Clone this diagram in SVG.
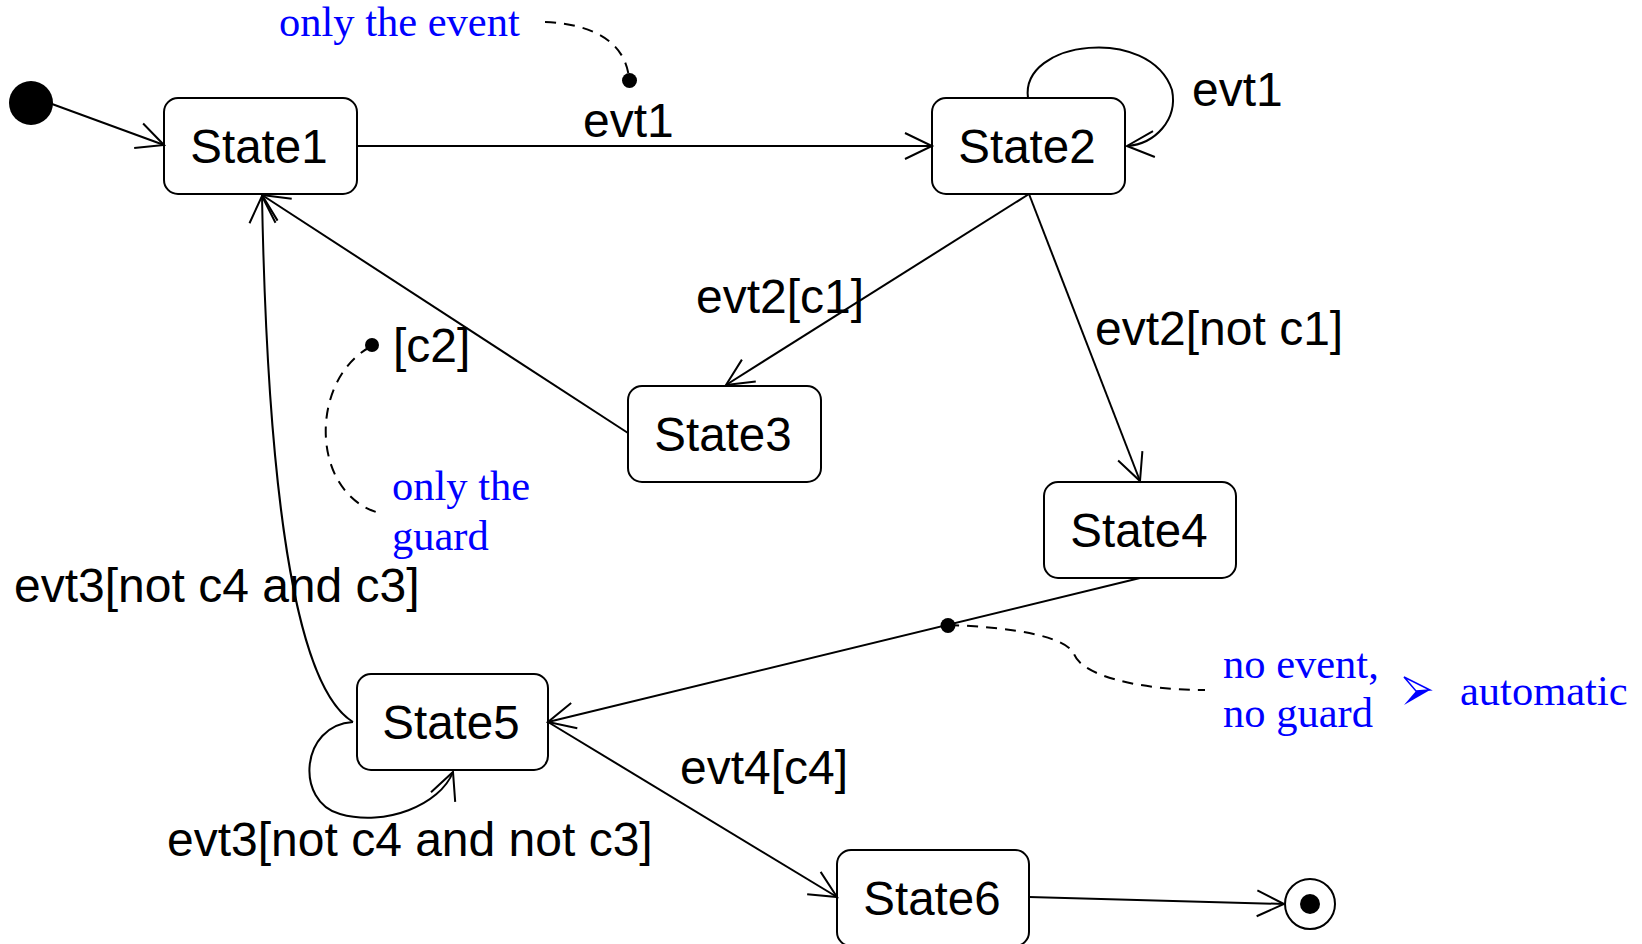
<svg xmlns="http://www.w3.org/2000/svg" width="1642" height="944" viewBox="0 0 1642 944">
  <style>
    .state rect { fill: #ffffff; stroke: #000000; stroke-width: 2; }
    .state text { font-family: "Liberation Sans", Arial, sans-serif; font-size: 47.5px; fill: #000000; text-anchor: middle; }
    .edge { fill: none; stroke: #000000; stroke-width: 2; marker-end: url(#open-arrow); }
    .lbl { font-family: "Liberation Sans", Arial, sans-serif; font-size: 48px; fill: #000000; }
    .note { font-family: "Liberation Serif", "Times New Roman", serif; font-size: 42.5px; fill: #0000ff; }
    .lead { fill: none; stroke: #000000; stroke-width: 2; stroke-dasharray: 11 8; }
  </style>
  <defs>
    <marker id="open-arrow" markerUnits="userSpaceOnUse" viewBox="-30 -16 32 32" markerWidth="32" markerHeight="32" refX="0" refY="0" orient="auto" overflow="visible">
      <path d="M -27 -13 L 0 0 L -27 13" fill="none" stroke="#000000" stroke-width="2"/>
    </marker>
  </defs>

  <rect width="1642" height="944" fill="#ffffff"/>

  <!-- pseudo states -->
  <g id="initial">
    <circle cx="31" cy="103" r="22" fill="#000000"/>
  </g>
  <g id="final">
    <circle cx="1310" cy="904" r="25" fill="#ffffff" stroke="#000000" stroke-width="2"/>
    <circle cx="1310" cy="904" r="10" fill="#000000"/>
  </g>

  <!-- states -->
  <g id="state1" class="state">
    <rect x="164" y="98" width="193" height="96" rx="14"/>
    <text x="259" y="163">State1</text>
  </g>
  <g id="state2" class="state">
    <rect x="932" y="98" width="193" height="96" rx="14"/>
    <text x="1027" y="163">State2</text>
  </g>
  <g id="state3" class="state">
    <rect x="628" y="386" width="193" height="96" rx="14"/>
    <text x="723" y="451">State3</text>
  </g>
  <g id="state4" class="state">
    <rect x="1044" y="482" width="192" height="96" rx="14"/>
    <text x="1139" y="547">State4</text>
  </g>
  <g id="state5" class="state">
    <rect x="357" y="674" width="191" height="96" rx="14"/>
    <text x="451" y="739">State5</text>
  </g>
  <g id="state6" class="state">
    <rect x="837" y="850" width="192" height="96" rx="14"/>
    <text x="932" y="915">State6</text>
  </g>

  <!-- transitions -->
  <g id="connectors">
    <path class="edge" d="M 52 104 L 164 145"/>
    <path class="edge" d="M 357 146 L 932 146"/>
    <path class="edge" d="M 1028 98 C 1020 40 1150 25 1172 90 C 1178 120 1155 144 1127 146"/>
    <path class="edge" d="M 1029 194 L 726 385"/>
    <path class="edge" d="M 1029 194 L 1140 481"/>
    <path class="edge" d="M 628 433 L 262 195"/>
    <path class="edge" d="M 1140 578 L 548 722"/>
    <path class="edge" d="M 353 722 C 300 690 268 520 262 196"/>
    <path class="edge" d="M 353 722 C 300 725 295 802 340 814 C 385 827 440 805 453 772"/>
    <path class="edge" d="M 548 722 L 837 897"/>
    <path class="edge" d="M 1029 897 L 1284 904"/>

    <text class="lbl" x="583" y="137">evt1</text>
    <text class="lbl" x="1192" y="106">evt1</text>
    <text class="lbl" x="696" y="313">evt2[c1]</text>
    <text class="lbl" x="1095" y="345">evt2[not c1]</text>
    <text class="lbl" x="393" y="362">[c2]</text>
    <text class="lbl" x="14" y="602">evt3[not c4 and c3]</text>
    <text class="lbl" x="680" y="784">evt4[c4]</text>
    <text class="lbl" x="167" y="856">evt3[not c4 and not c3]</text>
  </g>

  <!-- annotations -->
  <g id="note-event">
    <path class="lead" d="M 545 22 C 590 24 625 40 629 78"/>
    <circle cx="629.5" cy="80.5" r="7.5" fill="#000000"/>
    <text class="note" x="279" y="36">only the event</text>
  </g>
  <g id="note-guard">
    <circle cx="372" cy="345" r="7" fill="#000000"/>
    <path class="lead" d="M 370 347 C 310 380 310 490 376 512"/>
    <text class="note" x="392" y="500">only the</text>
    <text class="note" x="392" y="550">guard</text>
  </g>
  <g id="note-auto">
    <circle cx="948" cy="625.5" r="7.5" fill="#000000"/>
    <path class="lead" d="M 948 625 C 1010 627 1066 636 1074 654 C 1082 676 1140 690 1205 690"/>
    <text class="note" x="1223" y="678">no event,</text>
    <text class="note" x="1223" y="727">no guard</text>
    <polygon points="1416,691 1430,690 1404,705" fill="#0000ff"/>
    <polygon points="1404,677 1430,690 1416,691" fill="#ffffff" stroke="#0000ff" stroke-width="1.5" stroke-linejoin="miter"/>
    <text class="note" x="1460" y="705">automatic</text>
  </g>
</svg>
